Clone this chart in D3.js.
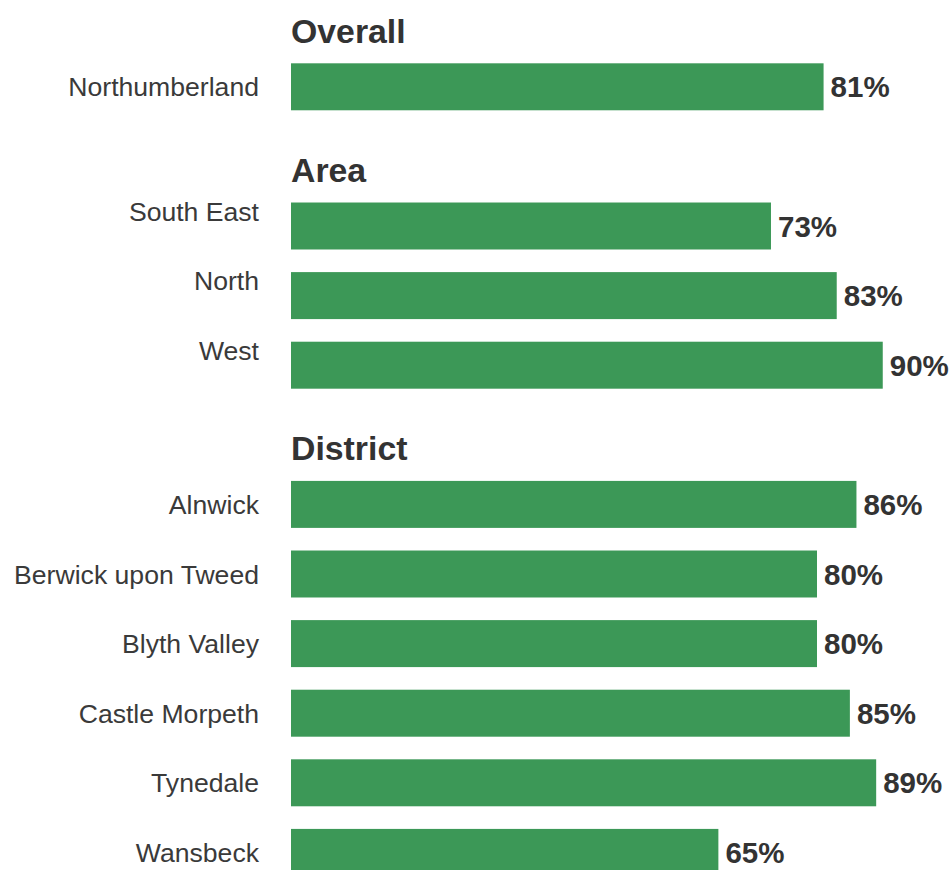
<!DOCTYPE html>
<html>
<head>
<meta charset="utf-8">
<script src="https://cdn.jsdelivr.net/npm/d3@7"></script>
<style>
  html, body { margin: 0; padding: 0; background: #fff; }
  svg { display: block; }
</style>
</head>
<body>
<div id="chart"></div>
<script>
// Satisfaction by geography, shown as three grouped sections
const groupNames = ["Overall", "Area", "District"];
const overallCategories = ["Northumberland"];
const overallValues = [81];
const areaCategories = ["South East", "North", "West"];
const areaValues = [73, 83, 90];
const districtCategories = ["Alnwick", "Berwick upon Tweed", "Blyth Valley", "Castle Morpeth", "Tynedale", "Wansbeck"];
const districtValues = [86, 80, 80, 85, 89, 65];

const W = 949, H = 870;
const barColor = "#3c9857";
const textColor = "#333333";
const font = "'Liberation Sans', Arial, Helvetica, sans-serif";

const groups = [
  { name: groupNames[0], cats: overallCategories, vals: overallValues, labelShift: 0 },
  { name: groupNames[1], cats: areaCategories, vals: areaValues, labelShift: -15 },
  { name: groupNames[2], cats: districtCategories, vals: districtValues, labelShift: 0 }
];

// Flatten into slots, with one empty slot between consecutive groups
const slots = [];
const rows = [];
groups.forEach((g, gi) => {
  if (gi > 0) slots.push("gap-" + gi);
  g.cats.forEach((c, i) => {
    const key = g.name + "|" + c;
    slots.push(key);
    rows.push({ key, group: g, cat: c, value: g.vals[i], first: i === 0 });
  });
});

const x = d3.scaleLinear().domain([0, 100]).range([291, 948.5]);
const y = d3.scaleBand().domain(slots).range([52, 52 + 69.6 * slots.length])
  .paddingInner(0.325).paddingOuter(0.1625);

const svg = d3.select("#chart").append("svg")
  .attr("width", W).attr("height", H)
  .style("font-family", font);

// Bars
svg.append("g").selectAll("rect").data(rows).join("rect")
  .attr("x", x(0))
  .attr("y", d => y(d.key))
  .attr("width", d => x(d.value) - x(0))
  .attr("height", y.bandwidth())
  .attr("fill", barColor);

// Category labels
svg.append("g").selectAll("text").data(rows).join("text")
  .attr("x", 259)
  .attr("y", d => y(d.key) + y.bandwidth() / 2 + 9.5 + d.group.labelShift)
  .attr("text-anchor", "end")
  .attr("font-size", 26.6)
  .attr("fill", "#3a3a3a")
  .text(d => d.cat);

// Value labels
svg.append("g").selectAll("text").data(rows).join("text")
  .attr("x", d => x(d.value) + 7)
  .attr("y", d => y(d.key) + y.bandwidth() / 2 + 10.5)
  .attr("font-size", 29.5)
  .attr("font-weight", "bold")
  .attr("fill", textColor)
  .text(d => d.value + "%");

// Section headings
svg.append("g").selectAll("text").data(rows.filter(d => d.first)).join("text")
  .attr("x", 291)
  .attr("y", d => y(d.key) - 20.5)
  .attr("font-size", 33.8)
  .attr("font-weight", "bold")
  .attr("fill", textColor)
  .text(d => d.group.name);
</script>
</body>
</html>
